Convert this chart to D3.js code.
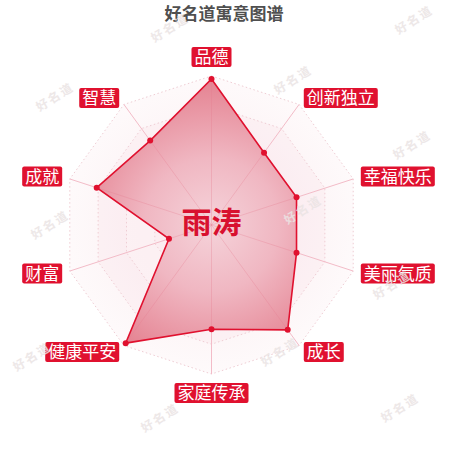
<!DOCTYPE html>
<html>
<head>
<meta charset="utf-8">
<script src="https://cdn.jsdelivr.net/npm/d3@7"></script>
<style>
html,body{margin:0;padding:0;background:#fff;}
svg{display:block;}
</style>
</head>
<body>
<svg id="chart" width="450" height="450"></svg>
<script>
const title = "好名道寓意图谱";
const centerName = "雨涛";
const categories = ["品德","创新独立","幸福快乐","美丽气质","成长","家庭传承","健康平安","财富","成就","智慧"];
const values = [98, 60, 60, 60, 87, 70, 98, 30, 81, 70];
const maxValue = 100;
const ringLevels = [20, 40, 60, 80, 100];
const watermarkText = "好名道";
const watermarkSpots = [[170,28],[414,20],[55,97],[293,80],[412,145],[50,225],[303,210],[392,285],[32,357],[280,352],[160,418],[400,408]];

const svg = d3.select("#chart");
const cx = 211.5, cy = 225, R = 149;
const rScale = d3.scaleLinear().domain([0, maxValue]).range([0, R]);
const angle = d3.scaleLinear().domain([0, categories.length]).range([0, 2 * Math.PI]);
const pt = (i, v) => {
  const a = angle(i), r = rScale(v);
  return [cx + r * Math.sin(a), cy - r * Math.cos(a)];
};

const defs = svg.append("defs");
const bg = defs.append("radialGradient").attr("id","bgGrad")
  .attr("gradientUnits","userSpaceOnUse").attr("cx",cx).attr("cy",cy).attr("r",R);
bg.append("stop").attr("offset","0").attr("stop-color","#f7dde3");
bg.append("stop").attr("offset","0.6").attr("stop-color","#f9e6ea");
bg.append("stop").attr("offset","1").attr("stop-color","#fdf4f6");

const fg = defs.append("radialGradient").attr("id","fgGrad")
  .attr("gradientUnits","userSpaceOnUse").attr("cx",cx).attr("cy",cy).attr("r",R);
fg.append("stop").attr("offset","0").attr("stop-color","#f5d3da");
fg.append("stop").attr("offset","0.45").attr("stop-color","#f0b7c2");
fg.append("stop").attr("offset","1").attr("stop-color","#e4808f");

// title
svg.append("text").attr("x",224).attr("y",20).attr("text-anchor","middle")
  .attr("font-family","'Noto Sans CJK SC', sans-serif").attr("font-weight","bold")
  .attr("font-size",17).attr("fill","#4f4f4f").text(title);

// background bands
const ringPath = v => d3.line()(categories.map((c,i)=>pt(i,v))) + "Z";
svg.append("path").attr("d", ringPath(maxValue)).attr("fill","url(#bgGrad)").attr("opacity",0.45);
[80, 40].forEach(v => {
  svg.append("path").attr("d", ringPath(v)).attr("fill","#f3c9d2").attr("opacity",0.12);
});
[60, 20].forEach(v => {
  svg.append("path").attr("d", ringPath(v)).attr("fill","#fdf3f5").attr("opacity",0.5);
});

// ring lines
svg.append("g").selectAll("path").data(ringLevels).join("path")
  .attr("d", d => ringPath(d))
  .attr("fill","none").attr("stroke","#efcdd4").attr("stroke-width",1)
  .attr("stroke-dasharray","1.5,2.5");

// axis lines
svg.append("g").selectAll("line").data(categories).join("line")
  .attr("x1",cx).attr("y1",cy)
  .attr("x2",(d,i)=>pt(i,maxValue)[0]).attr("y2",(d,i)=>pt(i,maxValue)[1])
  .attr("stroke","#f3bcc8").attr("stroke-width",1);

// data polygon
const dataPts = values.map((v,i)=>pt(i,v));
svg.append("path").attr("d", d3.line()(dataPts) + "Z")
  .attr("fill","url(#fgGrad)").attr("stroke","#e0112f").attr("stroke-width",1.6)
  .attr("stroke-linejoin","miter");

// axis lines over polygon (faint)
svg.append("g").selectAll("line").data(categories).join("line")
  .attr("x1",cx).attr("y1",cy)
  .attr("x2",(d,i)=>pt(i,values[i])[0]).attr("y2",(d,i)=>pt(i,values[i])[1])
  .attr("stroke","#e57a8e").attr("stroke-opacity",0.3).attr("stroke-width",1);

// points
svg.append("g").selectAll("circle").data(dataPts).join("circle")
  .attr("cx",d=>d[0]).attr("cy",d=>d[1]).attr("r",3).attr("fill","#e0112f");

// center name
svg.append("text").attr("x",cx).attr("y",cy+8).attr("text-anchor","middle")
  .attr("font-family","'Noto Sans CJK SC', sans-serif").attr("font-weight","bold")
  .attr("font-size",30).attr("fill","#d8102f").text(centerName);

// axis labels
const gap = 8, fs = 17, padX = 3, boxH = 20;
const labels = svg.append("g");
categories.forEach((c,i) => {
  const a = angle(i);
  const [x, y] = [cx + (R+gap)*Math.sin(a), cy - (R+gap)*Math.cos(a)];
  const s = Math.sin(a), co = Math.cos(a);
  let anchor = Math.abs(s) < 1e-4 ? "middle" : (s > 0 ? "start" : "end");
  const g = labels.append("g");
  const t = g.append("text").attr("font-family","'Noto Sans CJK SC', sans-serif")
    .attr("font-size",fs).attr("fill","#fff").attr("text-anchor","middle").text(c);
  const w = t.node().getComputedTextLength();
  const bw = w + 2*padX;
  let bx;
  if (anchor === "middle") bx = x - bw/2;
  else if (anchor === "start") bx = x;
  else bx = x - bw;
  let by;
  if (Math.abs(s) < 1e-4) by = co > 0 ? y - boxH - 1 : y + 1;
  else by = y - boxH/2;
  g.insert("rect","text").attr("x",bx).attr("y",by).attr("width",bw).attr("height",boxH)
    .attr("rx",2).attr("fill","#e0112f");
  t.attr("x", bx + bw/2).attr("y", by + boxH/2 + fs*0.36);
});

// watermarks
svg.append("g").selectAll("text").data(watermarkSpots).join("text")
  .attr("transform", d => `translate(${d[0]},${d[1]}) rotate(-32)`)
  .attr("text-anchor","middle").attr("dy","0.35em")
  .attr("font-family","'Noto Sans CJK SC', sans-serif").attr("font-size",12)
  .attr("letter-spacing",2).attr("font-weight","bold")
  .attr("fill","#ebe4e4").attr("opacity",0.85).text(watermarkText);
</script>
</body>
</html>
